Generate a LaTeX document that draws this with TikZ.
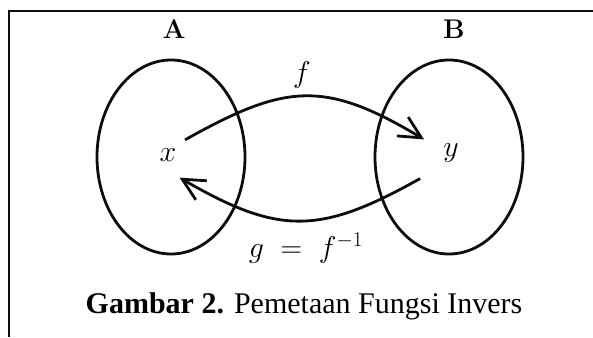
\RequirePackage{fix-cm}
\documentclass[tikz,border=0pt]{standalone}
\usepackage{amsmath,amssymb}
\usepackage{fontspec}
\usepackage{tikz}
\usetikzlibrary{arrows.meta,shapes.geometric}
\newfontfamily\capfont{Liberation Serif}
\definecolor{ink}{gray}{0.05}

\begin{document}
\begin{tikzpicture}[x=1pt,y=1pt,
  set/.style={draw=ink,ellipse,line width=2.8pt,minimum width=148pt,minimum height=194pt,inner sep=0pt},
  map/.style={draw=ink,line width=2.8pt,-{Straight Barb[length=22pt,width=22pt]}},
  elem/.style={font=\fontsize{30}{36}\selectfont,inner sep=0pt}]
\useasboundingbox (0,0) rectangle (593,337);
\draw[draw=ink,line width=1.6pt] (593,326)--(9,326)--(9,0);
\node[set] (setA) at (171,180) {};
\node[set] (setB) at (449,180) {};
\node[font=\fontsize{27}{32}\selectfont\bfseries] (nameA) at (174,307.5) {A};
\node[font=\fontsize{27}{32}\selectfont\bfseries] (nameB) at (454,307.5) {B};
\node[elem] (x) at (168,182) {$x$};
\node[elem] (y) at (451,184) {$y$};
\draw[map] ([shift={(8.5,8.5)}]x.north east) .. controls +(100,56) and +(-100,60) .. ([shift={(-19,4)}]y.north west);
\draw[map] ([shift={(-23,-16)}]y.south west) .. controls +(-100,-56) and +(100,-58) .. ([shift={(3,-16)}]x.south east);
\node[elem] (flabel) at (302,262) {$f$};
\node[elem] (glabel) at (306,89) {$g \;=\; f^{-1}$};
\node[font=\capfont\fontsize{30}{36}\selectfont,anchor=base] (caption) at (304,24) {\textbf{Gambar 2.} Pemetaan Fungsi Invers};
\end{tikzpicture}
\end{document}
